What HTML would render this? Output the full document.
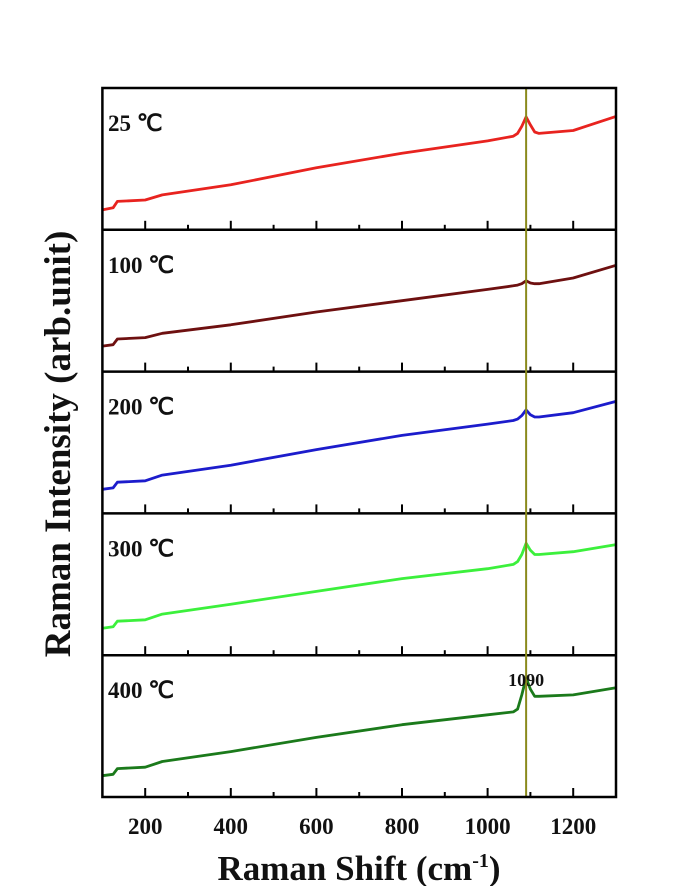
<!DOCTYPE html>
<html><head><meta charset="utf-8"><style>
html,body{margin:0;padding:0;background:#fff;}
svg{display:block;font-family:"Liberation Serif",serif;}
</style></head><body>
<svg id="chart" width="684" height="886" viewBox="0 0 684 886" xmlns="http://www.w3.org/2000/svg"></svg>
<script>
const xValues = [100,125,135,200,240,400,600,800,1000,1060,1070,1080,1090,1100,1110,1120,1200,1300];
const panelLabels = ["25 ℃","100 ℃","200 ℃","300 ℃","400 ℃"];
const seriesColors = ["#e8231f","#6e1010","#1c1ccc","#3cf03c","#1b7a1b"];
const s25  = [14,15.5,20,21,24.6,31.7,43.7,54,62.7,66,68,73,79.6,74,69,68,70,80];
const s100 = [18,19,23,24,27,33,42,50,58,60.5,61,62,64,62.5,62,62,66,75];
const s200 = [17,18,22,23,27,34,45,55,63,65.5,66.5,69,73,69.5,68,68,71,79];
const s300 = [19,20,24,25,29,36,45,54,61,64,66,71,79,74,71,71,73,78];
const s400 = [15,16,20,21,25,32,42,51,58,60,62,72,84,76,71,71,72,77];
const series = [s25,s100,s200,s300,s400];
const xTicks = [200,400,600,800,1000,1200];
const xMinor = [300,500,700,900,1100];
const peakX = 1090;

const NS="http://www.w3.org/2000/svg";
const svg=document.getElementById('chart');
const L=102.4,R=616,T=88,B=797,nP=5,PH=(B-T)/nP;
const xs=v=>L+(v-100)*(R-L)/1200;
const ys=(p,v)=>T+(p+1)*PH-v/100*PH;
function mk(tag,attrs){const e=document.createElementNS(NS,tag);for(const k in attrs)e.setAttribute(k,attrs[k]);svg.appendChild(e);return e;}

for(let p=0;p<nP;p++){
  const d=series[p].map((v,i)=>(i?'L':'M')+xs(xValues[i]).toFixed(1)+','+ys(p,v).toFixed(1)).join(' ');
  const path=mk('path',{d:d,fill:'none',stroke:seriesColors[p],'stroke-width':2.8,'stroke-linejoin':'round'});
  
  
  const lb=mk('text',{x:108,y:T+p*PH+43,'font-size':23,'font-weight':'bold',fill:'#111'});
  lb.textContent=panelLabels[p];
  
  
  const by=T+(p+1)*PH;
  xTicks.forEach(t=>{const tk=mk('line',{x1:xs(t),x2:xs(t),y1:by,y2:by-9,stroke:'#000','stroke-width':2});
    });
  xMinor.forEach(t=>{const tk=mk('line',{x1:xs(t),x2:xs(t),y1:by,y2:by-5,stroke:'#000','stroke-width':2});
    });
  if(p<nP-1){const sep=mk('line',{x1:L,x2:R,y1:by,y2:by,stroke:'#000','stroke-width':2.5});
    }
}
const vl=mk('line',{x1:xs(peakX),x2:xs(peakX),y1:T,y2:B,stroke:'#8a8a1c','stroke-width':2});


const pk=mk('text',{x:xs(peakX),y:T+4*PH+31,'font-size':18,'font-weight':'bold','text-anchor':'middle',fill:'#111'});
pk.textContent='1090';


const fr=mk('rect',{x:L,y:T,width:R-L,height:B-T,fill:'none',stroke:'#000','stroke-width':2.5});


xTicks.forEach(t=>{const tl=mk('text',{x:xs(t),y:834,'font-size':23,'font-weight':'bold','text-anchor':'middle',fill:'#111'});
  tl.textContent=t;
  
  });
const xt=mk('text',{x:359,y:880,'font-size':35,'font-weight':'bold','text-anchor':'middle',fill:'#111'});
xt.innerHTML='Raman Shift (cm<tspan dy="-13" font-size="20">-1</tspan><tspan dy="13">)</tspan>';


const yt=mk('text',{x:0,y:0,'font-size':37,'font-weight':'bold','text-anchor':'middle',fill:'#111',transform:'translate(70,444) rotate(-90)'});
yt.textContent='Raman Intensity (arb.unit)';


</script>
</body></html>
